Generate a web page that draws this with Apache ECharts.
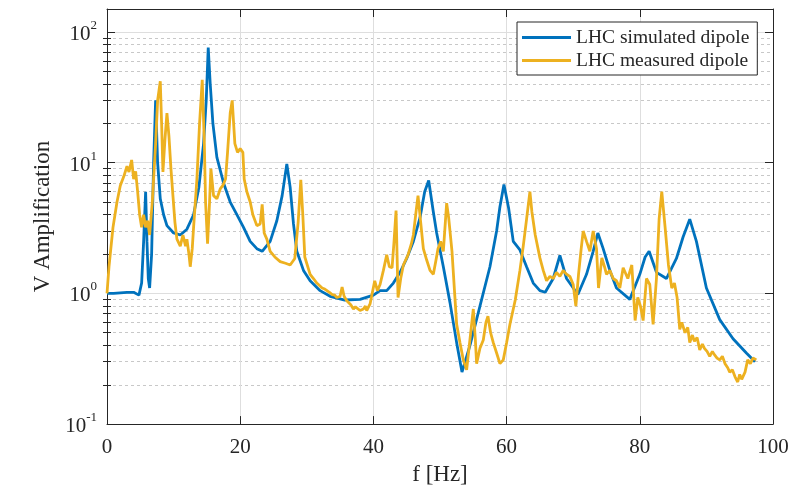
<!DOCTYPE html>
<html>
<head>
<meta charset="utf-8">
<script src="https://cdn.jsdelivr.net/npm/echarts@6/dist/echarts.min.js"></script>
<style>
  html, body { margin: 0; padding: 0; background: #ffffff; }
  #chart { width: 803px; height: 491px; }
</style>
</head>
<body>
<div id="chart"></div>
<script>
// Vertical amplification vs frequency for the LHC dipole
const seriesNames = ['LHC simulated dipole', 'LHC measured dipole'];
const seriesColors = ['#0072BD', '#EDB120'];

const xTicks = [0, 20, 40, 60, 80, 100];
const yMajorTicks = [0.1, 1, 10, 100];
const yMinorTicks = [0.2, 0.3, 0.4, 0.5, 0.6, 0.7, 0.8, 0.9,
                     2, 3, 4, 5, 6, 7, 8, 9,
                     20, 30, 40, 50, 60, 70, 80, 90];

// simulated dipole
const simFreq = [0, 1, 2, 3, 4, 4.8, 5.2, 5.5, 5.8, 6.0, 6.2, 6.4, 6.7, 7.0, 7.3, 7.6, 8.0, 8.5, 9,
  10, 11, 12, 13, 13.8, 14.5, 14.9, 15.2, 15.5, 15.9, 16.5, 17.5, 18.5, 19.5, 20.5, 21.5, 22.5,
  23.3, 24.5, 25.5, 26.3, 27.0, 27.5, 28.0, 28.5, 29.5, 30.5, 32, 33.5, 35.7, 38, 40, 41, 42, 43,
  44, 45, 46, 47, 47.7, 48.3, 49, 49.5, 50.5, 51.5, 52.5, 53.3, 54.5, 56, 57.5, 58.5, 59.0, 59.6,
  60.3, 61, 62, 63, 64, 65, 65.8, 67, 68, 69, 70.7, 72, 73, 73.7, 74.5, 75.5, 76.5, 78.5, 80,
  80.8, 81.4, 82.5, 84, 85.5, 86.5, 87.5, 88.5, 90, 92, 94, 96, 97.3];
const simAmp = [1.0, 1.0, 1.01, 1.02, 1.02, 0.97, 1.2, 2.5, 6.0, 2.5, 1.3, 1.1, 2.0, 10, 30, 10, 5.3, 4.0, 3.3,
  2.9, 2.8, 3.1, 4.0, 6.5, 14, 30, 76, 40, 20, 11, 7, 5, 4, 3.2, 2.5, 2.2,
  2.1, 2.5, 3.6, 5.6, 9.8, 6.5, 3.4, 2.1, 1.5, 1.25, 1.05, 0.95, 0.89, 0.9, 0.97, 1.05, 1.05, 1.2,
  1.45, 1.85, 2.5, 3.8, 6.0, 7.3, 4.2, 2.9, 1.6, 0.85, 0.42, 0.25, 0.4, 0.8, 1.6, 3.0, 4.6, 6.8,
  4.5, 2.5, 2.15, 1.6, 1.2, 1.05, 1.02, 1.3, 1.95, 1.3, 0.98, 1.4, 2.1, 2.9, 2.2, 1.5, 1.1, 0.9, 1.4,
  1.9, 2.1, 1.45, 1.3, 1.85, 2.7, 3.7, 2.5, 1.1, 0.63, 0.45, 0.35, 0.3];

// measured dipole
const measFreq = [
  0, 0.3, 0.9, 1.5, 2.0, 2.5, 3.0, 3.3, 3.7, 4.0, 4.3, 4.6, 4.9, 5.2, 5.5, 5.8, 6.1, 6.4,
  6.8, 7.3, 7.6, 8.0, 8.2, 8.4, 8.7, 9.0, 9.3, 9.6, 9.9, 10.2, 10.5, 11.0, 11.4, 11.8, 12.0, 12.3,
  12.5, 12.8, 13.0, 13.5, 13.9, 14.3, 14.6, 14.8, 15.1, 15.4, 15.6, 16.0, 16.5, 17.0, 17.4, 17.8,
  18.1, 18.5, 18.8, 19.2, 19.6, 20.0, 20.4, 20.6, 21.0, 21.5, 21.9, 22.5, 23.0, 23.3, 23.6, 24.0,
  24.5, 25.2, 26.0, 26.8, 27.5, 28.2, 28.7, 29.1, 29.4, 29.7, 30.5, 31.0, 31.5, 31.9, 32.3, 32.7,
  33.0, 33.4, 33.8, 34.2, 34.5, 35.0, 35.3, 35.6, 36.0, 36.3, 36.6, 37.0, 37.3, 37.5, 38.0, 38.5,
  38.8, 39.0, 39.5, 40.2, 40.6, 41.0, 41.5, 42.0, 42.4, 42.8, 43.1, 43.4, 43.7, 44.1, 44.5, 45.2,
  45.7, 46.0, 46.4, 46.7, 47.1, 47.5, 48.0, 48.5, 49.0, 49.4, 49.7, 50.1, 50.5, 50.8, 51.0, 51.3,
  51.8, 52.2, 52.5, 53.0, 53.5, 54.0, 54.4, 55.0, 55.3, 55.5, 56.0, 56.5, 56.9, 57.2, 57.6, 58.0,
  58.5, 59.0, 59.5, 60.0, 60.5, 61.3, 62.0, 62.5, 63.0, 63.5, 63.8, 64.3, 65.0, 65.5, 66.0, 66.5,
  67.0, 67.5, 68.0, 68.5, 69.0, 69.5, 70.0, 70.4, 70.8, 71.2, 71.5, 72.0, 72.5, 73.0, 73.5, 73.8,
  74.3, 74.7, 75.0, 75.5, 76.0, 76.5, 77.0, 77.5, 78.2, 78.8, 79.3, 79.7, 80.1, 80.5, 81.0, 81.5,
  82.0, 82.5, 82.9, 83.3, 83.8, 84.3, 84.8, 85.2, 85.6, 86.0, 86.3, 86.8, 87.2, 87.5, 87.9, 88.2,
  88.6, 89.0, 89.4, 89.7, 90.1, 90.5, 90.9, 91.2, 91.6, 92.0, 92.4, 92.8, 93.2, 93.5, 93.9, 94.3,
  94.7, 95.0, 95.3, 95.5, 95.8, 96.2, 96.6, 97.0, 97.5];
const measAmp = [
  1.0, 1.6, 3.2, 5.0, 6.7, 7.8, 9.4, 8.5, 10.5, 7.5, 8.6, 6.0, 4.0, 3.2, 4.0, 3.2, 3.6, 2.8,
  5.0, 14, 30, 42, 20, 8.5, 15, 24, 16, 9, 5.6, 3.5, 2.6, 2.3, 2.8, 2.3, 2.6, 2.0,
  1.6, 2.2, 3.2, 7.5, 20, 43, 15, 5, 2.4, 5, 9, 5.6, 5.3, 6.3, 6.7, 7.5,
  12, 24, 30, 14, 12, 12.8, 12, 7.5, 6.0, 5.0, 4.0, 3.3, 3.4, 4.8, 2.9, 2.6,
  2.1, 1.9, 1.75, 1.7, 1.65, 1.85, 3.5, 7.4, 4, 1.9, 1.4, 1.3, 1.2, 1.15, 1.1, 1.08,
  1.05, 1.02, 0.98, 0.97, 0.93, 0.95, 1.12, 0.95, 0.88, 0.86, 0.82, 0.76, 0.79, 0.8, 0.74, 0.76,
  0.8, 0.74, 0.83, 1.25, 1.05, 1.17, 1.5, 1.97, 1.6, 1.57, 2.5, 4.3, 0.93, 1.3, 1.65, 1.97,
  2.4, 2.8, 4.2, 5.6, 3.5, 2.2, 1.8, 1.5, 1.4, 1.8, 2.2, 2.5, 2.1, 3.5, 4.9, 3.8,
  2.1, 1.0, 0.58, 0.42, 0.31, 0.26, 0.4, 0.76, 0.45, 0.29, 0.38, 0.44, 0.6, 0.67, 0.5, 0.42,
  0.35, 0.29, 0.31, 0.42, 0.58, 0.89, 1.5, 2.3, 3.7, 6.0, 4.2, 2.8, 1.87, 1.5, 1.25, 1.35,
  1.3, 1.45, 1.35, 1.5, 1.4, 1.35, 1.17, 0.8, 1.4, 2.2, 3.0, 2.5, 2.1, 3.0, 2.2, 1.1,
  1.87, 1.6, 1.4, 1.5, 1.3, 1.25, 1.1, 1.57, 1.3, 1.65, 0.62, 0.93, 0.8, 0.62, 1.3, 1.17,
  0.58, 1.3, 3.7, 6.0, 3.2, 1.65, 1.1, 1.2, 0.93, 0.53, 0.6, 0.5, 0.55, 0.42, 0.48, 0.43,
  0.46, 0.37, 0.41, 0.38, 0.36, 0.33, 0.36, 0.34, 0.32, 0.31, 0.33, 0.29, 0.27, 0.25, 0.26, 0.23,
  0.21, 0.24, 0.22, 0.22, 0.25, 0.31, 0.29, 0.32, 0.31];

const pairs = (xs, ys) => xs.map((x, i) => [x, ys[i]]);

const FONT = '"Liberation Serif", "Times New Roman", serif';
const INK = '#262626';
const Y_MIN = 0.1, Y_MAX = 150;

// "10^n" labels on powers of ten only
function powerLabel(v) {
  if (v > 100.5) return '';
  const e = Math.round(Math.log10(v));
  if (Math.abs(Math.pow(10, e) - v) > 1e-9 * v) return '';
  return '{b|10}{e|' + e + '}';
}

const logAxisBase = {
  type: 'log', logBase: 10, min: Y_MIN, max: Y_MAX, gridIndex: 0
};

const chart = echarts.init(document.getElementById('chart'), null, { renderer: 'canvas' });
chart.setOption({
  animation: false,
  backgroundColor: '#ffffff',
  grid: { left: 107, right: 30, top: 9, bottom: 62, containLabel: false },
  legend: {
    orient: 'vertical',
    left: 517, top: 22,
    padding: [4, 8, 3, 5],
    itemGap: 0,
    itemWidth: 49, itemHeight: 3,
    icon: 'rect',
    backgroundColor: '#ffffff',
    borderColor: INK, borderWidth: 1, borderRadius: 0,
    textStyle: { fontFamily: FONT, fontSize: 19.5, color: INK, lineHeight: 23 },
    data: seriesNames
  },
  xAxis: [
    {
      type: 'value', min: xTicks[0], max: xTicks[xTicks.length - 1], interval: 20,
      position: 'bottom',
      name: 'f [Hz]', nameLocation: 'middle', nameGap: 38,
      nameTextStyle: { fontFamily: FONT, fontSize: 23, color: INK },
      axisLine: { show: true, onZero: false, lineStyle: { color: INK, width: 1 } },
      axisTick: { show: true, inside: true, length: 8, lineStyle: { color: INK } },
      axisLabel: { fontFamily: FONT, fontSize: 21, color: INK, margin: 13 },
      splitLine: { show: true, lineStyle: { color: '#dedede', width: 1 } }
    },
    {
      type: 'value', min: xTicks[0], max: xTicks[xTicks.length - 1], interval: 20,
      position: 'top',
      axisLine: { show: true, onZero: false, lineStyle: { color: INK, width: 1 } },
      axisTick: { show: true, inside: true, length: 8, lineStyle: { color: INK } },
      axisLabel: { show: false },
      splitLine: { show: false }
    }
  ],
  yAxis: [
    Object.assign({}, logAxisBase, {
      position: 'left',
      name: 'V Amplification', nameLocation: 'middle', nameGap: 52, nameRotate: 90,
      nameTextStyle: { fontFamily: FONT, fontSize: 23, color: INK },
      axisLine: { show: true, onZero: false, lineStyle: { color: INK, width: 1 } },
      axisTick: { show: true, inside: true, length: 8, lineStyle: { color: INK } },
      axisLabel: {
        margin: 10,
        formatter: powerLabel,
        rich: {
          b: { fontFamily: FONT, fontSize: 21, color: INK, lineHeight: 26, verticalAlign: 'bottom' },
          e: { fontFamily: FONT, fontSize: 13, color: INK, lineHeight: 26, verticalAlign: 'top' }
        }
      },
      splitLine: { show: true, lineStyle: { color: '#dedede', width: 1 } }
    }),
    Object.assign({}, logAxisBase, {
      position: 'right',
      axisLine: { show: true, onZero: false, lineStyle: { color: INK, width: 1 } },
      axisTick: { show: true, inside: true, length: 8, lineStyle: { color: INK } },
      axisLabel: { show: false },
      splitLine: { show: false }
    }),
    // minor decades: dotted grid plus short inside ticks
    Object.assign({}, logAxisBase, {
      position: 'left',
      axisLine: { show: false },
      axisTick: { show: true, inside: true, length: 4, customValues: yMinorTicks, lineStyle: { color: INK } },
      axisLabel: { show: false },
      splitLine: { show: true, lineStyle: { color: '#c8c8c8', width: 1, type: [3, 3] } }
    }),
    Object.assign({}, logAxisBase, {
      position: 'right',
      axisLine: { show: false },
      axisTick: { show: true, inside: true, length: 4, customValues: yMinorTicks, lineStyle: { color: INK } },
      axisLabel: { show: false },
      splitLine: { show: false }
    })
  ],
  series: [
    {
      name: seriesNames[0], type: 'line', xAxisIndex: 0, yAxisIndex: 0,
      data: pairs(simFreq, simAmp),
      showSymbol: false, symbol: 'none', clip: true, z: 3,
      color: seriesColors[0],
      lineStyle: { color: seriesColors[0], width: 2.8 }
    },
    {
      name: seriesNames[1], type: 'line', xAxisIndex: 0, yAxisIndex: 0,
      data: pairs(measFreq, measAmp),
      showSymbol: false, symbol: 'none', clip: true, z: 4,
      color: seriesColors[1],
      lineStyle: { color: seriesColors[1], width: 2.8 }
    }
  ]
});
</script>
</body>
</html>
